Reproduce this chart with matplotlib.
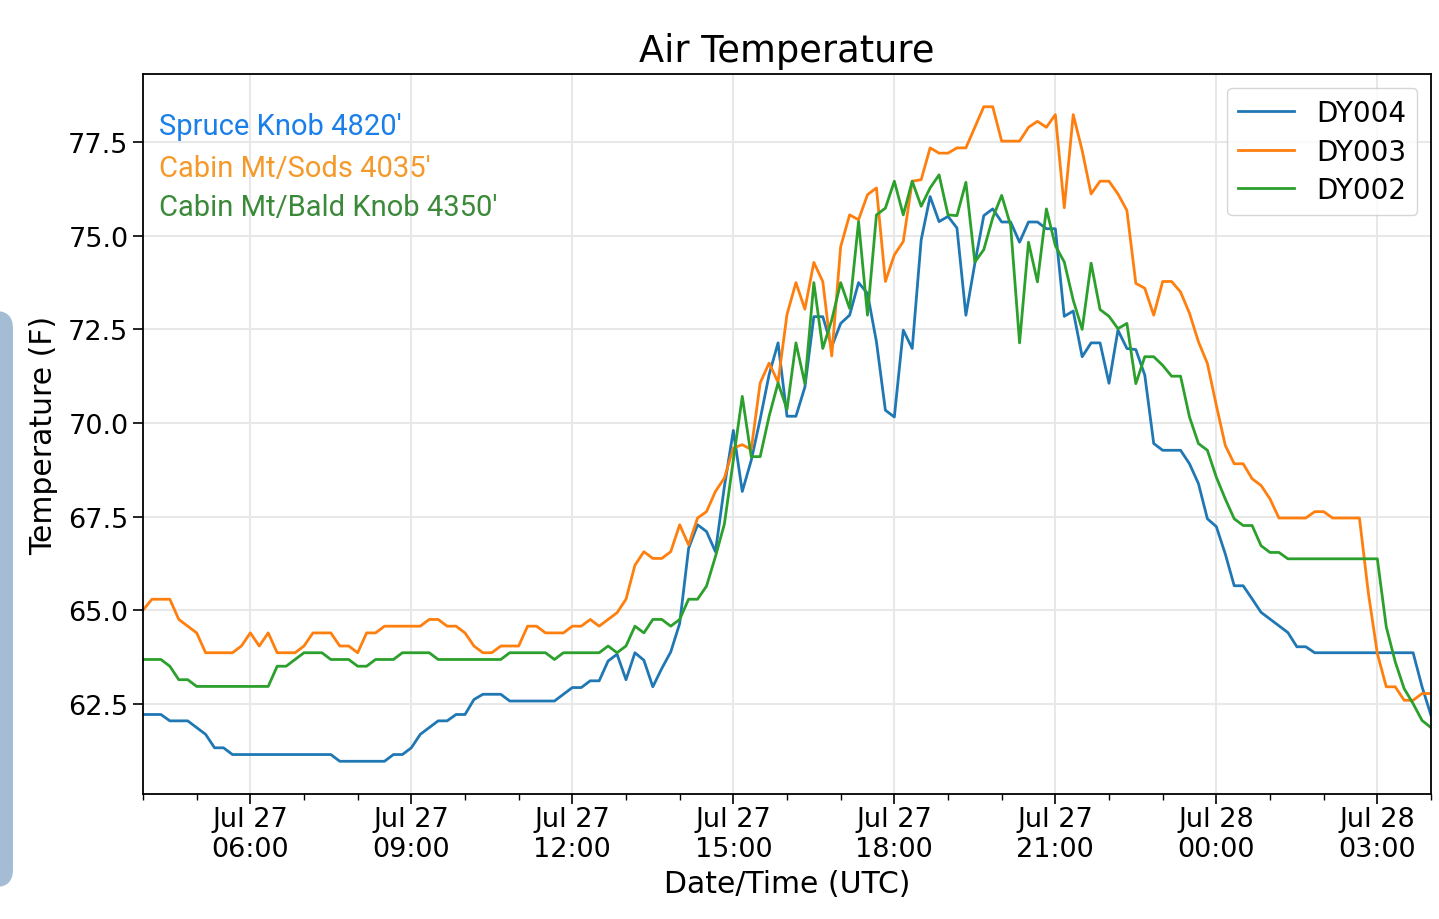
import numpy as np
import pandas as pd
import matplotlib
matplotlib.use("Agg")
import matplotlib.pyplot as plt
import matplotlib.dates as mdates
from matplotlib.patches import FancyBboxPatch

# ---------------- data (10-minute samples, Jul 27 04:00 UTC -> Jul 28 04:00 UTC) ----------------
start_time = "2019-07-27 04:00"
n_points = 145
step = "10min"

dy004 = [62.21, 62.21, 62.21, 62.04, 62.04, 62.04, 61.86, 61.68, 61.32, 61.32,
         61.14, 61.14, 61.14, 61.14, 61.14, 61.14, 61.14, 61.14, 61.14, 61.14,
         61.14, 61.14, 60.96, 60.96, 60.96, 60.96, 60.96, 60.96, 61.14, 61.14,
         61.32, 61.68, 61.86, 62.04, 62.04, 62.21, 62.21, 62.61, 62.75, 62.75,
         62.75, 62.57, 62.57, 62.57, 62.57, 62.57, 62.57, 62.75, 62.93, 62.93,
         63.11, 63.11, 63.64, 63.82, 63.14, 63.86, 63.66, 62.95, 63.44, 63.88,
         64.64, 66.65, 67.28, 67.10, 66.56, 68.30, 69.80, 68.17, 69.00, 70.10,
         71.29, 72.14, 70.18, 70.18, 70.96, 72.84, 72.84, 72.04, 72.66, 72.88,
         73.75, 73.46, 72.17, 70.34, 70.16, 72.48, 71.99, 74.89, 76.05, 75.38,
         75.52, 75.21, 72.88, 74.26, 75.54, 75.72, 75.37, 75.37, 74.83, 75.37,
         75.37, 75.19, 75.19, 72.85, 72.99, 71.77, 72.14, 72.14, 71.06, 72.48,
         71.99, 71.96, 71.28, 69.45, 69.27, 69.27, 69.27, 68.91, 68.38, 67.44,
         67.23, 66.50, 65.65, 65.65, 65.30, 64.94, 64.76, 64.58, 64.40, 64.02,
         64.02, 63.86, 63.86, 63.86, 63.86, 63.86, 63.86, 63.86, 63.86, 63.86,
         63.86, 63.86, 63.86, 62.95, 62.19]

dy003 = [65.00, 65.29, 65.29, 65.29, 64.75, 64.57, 64.39, 63.86, 63.86, 63.86,
         63.86, 64.04, 64.39, 64.04, 64.39, 63.86, 63.86, 63.86, 64.04, 64.39,
         64.39, 64.39, 64.04, 64.04, 63.86, 64.39, 64.39, 64.57, 64.57, 64.57,
         64.57, 64.57, 64.75, 64.75, 64.57, 64.57, 64.39, 64.04, 63.86, 63.86,
         64.04, 64.04, 64.04, 64.57, 64.57, 64.39, 64.39, 64.39, 64.57, 64.57,
         64.75, 64.57, 64.75, 64.93, 65.29, 66.20, 66.56, 66.38, 66.38, 66.56,
         67.28, 66.74, 67.46, 67.63, 68.17, 68.53, 69.33, 69.42, 69.29, 71.07,
         71.60, 71.09, 72.90, 73.75, 73.04, 74.29, 73.78, 71.79, 74.71, 75.56,
         75.43, 76.10, 76.28, 73.78, 74.49, 74.85, 76.46, 76.50, 77.35, 77.21,
         77.21, 77.35, 77.35, 77.90, 78.45, 78.45, 77.53, 77.53, 77.53, 77.90,
         78.06, 77.90, 78.24, 75.75, 78.24, 77.28, 76.12, 76.46, 76.46, 76.12,
         75.68, 73.73, 73.60, 72.88, 73.78, 73.78, 73.50, 72.93, 72.17, 71.59,
         70.47, 69.40, 68.91, 68.91, 68.51, 68.33, 67.97, 67.46, 67.46, 67.46,
         67.46, 67.63, 67.63, 67.46, 67.46, 67.46, 67.46, 65.45, 63.84, 62.95,
         62.95, 62.59, 62.59, 62.77, 62.77]

dy002 = [63.68, 63.68, 63.68, 63.50, 63.14, 63.14, 62.96, 62.96, 62.96, 62.96,
         62.96, 62.96, 62.96, 62.96, 62.96, 63.50, 63.50, 63.68, 63.86, 63.86,
         63.86, 63.68, 63.68, 63.68, 63.50, 63.50, 63.68, 63.68, 63.68, 63.86,
         63.86, 63.86, 63.86, 63.68, 63.68, 63.68, 63.68, 63.68, 63.68, 63.68,
         63.68, 63.86, 63.86, 63.86, 63.86, 63.86, 63.68, 63.86, 63.86, 63.86,
         63.86, 63.86, 64.04, 63.86, 64.04, 64.57, 64.39, 64.75, 64.75, 64.57,
         64.75, 65.29, 65.29, 65.64, 66.43, 67.30, 69.00, 70.71, 69.10, 69.10,
         70.18, 71.07, 70.36, 72.14, 71.05, 73.75, 71.99, 72.75, 73.75, 73.06,
         75.38, 72.88, 75.56, 75.74, 76.46, 75.56, 76.46, 75.79, 76.28, 76.63,
         75.56, 75.54, 76.43, 74.30, 74.63, 75.48, 76.08, 75.28, 72.14, 74.83,
         73.77, 75.72, 74.74, 74.30, 73.28, 72.50, 74.27, 73.03, 72.85, 72.52,
         72.66, 71.05, 71.77, 71.77, 71.54, 71.25, 71.25, 70.16, 69.45, 69.27,
         68.55, 67.97, 67.44, 67.26, 67.26, 66.72, 66.54, 66.54, 66.37, 66.37,
         66.37, 66.37, 66.37, 66.37, 66.37, 66.37, 66.37, 66.37, 66.37, 64.55,
         63.62, 62.90, 62.50, 62.05, 61.86]

series_names = ["DY004", "DY003", "DY002"]
station_labels = ["Spruce Knob 4820'", "Cabin Mt/Sods 4035'", "Cabin Mt/Bald Knob 4350'"]
station_colors = ["#1a7fe8", "#f59a2a", "#3a8a3a"]
title = "Air Temperature"
xlabel = "Date/Time (UTC)"
ylabel = "Temperature (F)"

# ---------------- figure ----------------
times = pd.date_range(start_time, periods=n_points, freq=step)
df = pd.DataFrame({"DY004": dy004, "DY003": dy003, "DY002": dy002}, index=times)

fig = plt.figure(figsize=(14.39, 9.2), dpi=100)
ax = fig.add_axes([143 / 1439, 1 - 795 / 920, (1431 - 143) / 1439, (795 - 75) / 920])

line_colors = ["#1f77b4", "#ff7f0e", "#2ca02c"]
for name, col in zip(series_names, line_colors):
    ax.plot(df.index, df[name], color=col, lw=2.0, label=name)

ax.set_xlim(df.index[0], df.index[-1])
ax.margins(y=0.05)

ax.xaxis.set_major_locator(mdates.HourLocator(byhour=range(0, 24, 3)))
ax.xaxis.set_minor_locator(mdates.HourLocator())
ax.xaxis.set_major_formatter(mdates.DateFormatter("%b %d\n%H:%M"))
ax.yaxis.set_major_locator(plt.MultipleLocator(2.5))
ax.yaxis.set_major_formatter(plt.FormatStrFormatter("%.1f"))

ax.tick_params(axis="both", which="major", labelsize=19.5, length=7, width=1.2)
ax.tick_params(axis="x", which="minor", length=4, width=1.0)
ax.tick_params(axis="x", which="major", pad=2)

ax.grid(True, which="major", color="#e8e8e8", lw=1.5)
ax.set_axisbelow(True)
for sp in ax.spines.values():
    sp.set_linewidth(1.3)

ax.set_title(title, fontsize=26.5, pad=9)
ax.set_xlabel(xlabel, fontsize=21.5, labelpad=5)
ax.set_ylabel(ylabel, fontsize=21.5, labelpad=7)

leg = ax.legend(loc="upper right", fontsize=20, handlelength=2.0, borderpad=0.4,
                labelspacing=0.38, handletextpad=0.8, fancybox=True)

ypos = [0.928, 0.869, 0.815]
for lab, col, yp in zip(station_labels, station_colors, ypos):
    ax.text(0.0124, yp, lab, transform=ax.transAxes, color=col, fontsize=21,
            family=["Roboto", "DejaVu Sans"], va="center", ha="left")

# decorative side tab at left edge
tab = FancyBboxPatch((-20 / 1439, 1 - 888 / 920), 33 / 1439, (888 - 312) / 920,
                     boxstyle="round,pad=0,rounding_size=0.012", transform=fig.transFigure,
                     facecolor="#a5bcd5", edgecolor="none", mutation_aspect=1439 / 920)
fig.patches.append(tab)

fig.savefig("out.png", dpi=100)
